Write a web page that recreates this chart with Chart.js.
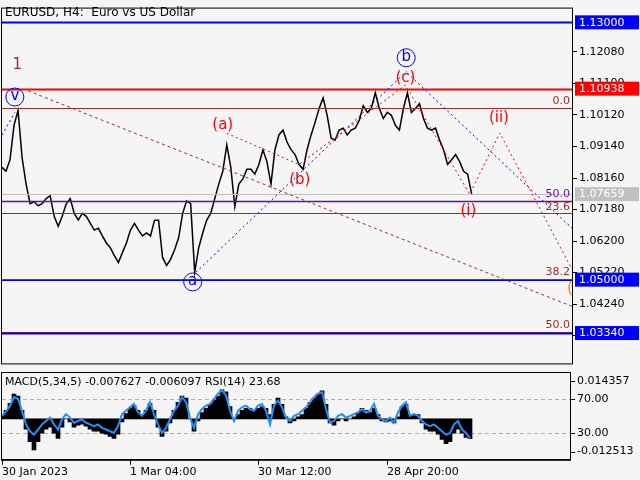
<!DOCTYPE html>
<html><head><meta charset="utf-8">
<script src="https://cdn.jsdelivr.net/npm/chart.js@4"></script>
<style>
body{margin:0;background:#f5f5f5;width:640px;height:480px;overflow:hidden;position:relative;font-family:"DejaVu Sans"}
#w1{position:absolute;left:0;top:0;width:640px;height:372px}
#w2{position:absolute;left:0;top:372px;width:640px;height:108px}
</style></head><body>
<div id="w1"><canvas id="c1"></canvas></div>
<div id="w2"><canvas id="c2"></canvas></div>
<script>
const closes=[1.0849,1.0837,1.0873,1.0980,1.1026,1.0880,1.0797,1.0736,1.0742,1.0730,
1.0736,1.0752,1.0761,1.0697,1.0666,1.0697,1.0736,1.0752,1.0706,1.0685,
1.0706,1.0697,1.0675,1.0654,1.0660,1.0636,1.0614,1.0599,1.0575,1.0553,
1.0584,1.0614,1.0654,1.0675,1.0654,1.0636,1.0645,1.0636,1.0685,1.0685,
1.0569,1.0544,1.0563,1.0593,1.0630,1.0706,1.0745,1.0736,1.0523,1.0599,
1.0645,1.0685,1.0706,1.0752,1.0797,1.0837,1.0919,1.0849,1.0727,1.0797,
1.0813,1.0843,1.0843,1.0828,1.0858,1.0904,1.0867,1.0797,1.0904,1.0950,
1.0965,1.0928,1.0904,1.0889,1.0858,1.0843,1.0904,1.0950,1.0989,1.1032,
1.1065,1.1011,1.0940,1.0934,1.0965,1.0971,1.0950,1.0965,1.0971,1.0995,
1.1041,1.1020,1.1032,1.1081,1.1032,1.1001,1.1020,1.1011,1.0980,1.0965,
1.1032,1.1081,1.1020,1.1032,1.1047,1.1001,1.0971,1.0965,1.0971,1.0934,
1.0904,1.0858,1.0873,1.0889,1.0867,1.0837,1.0828,1.0766];
const macd=[0.0012,0.0032,0.0059,0.0095,0.0087,0.0032,-0.0040,-0.0087,-0.0119,-0.0087,
-0.0055,-0.0040,-0.0032,-0.0055,-0.0075,-0.0032,0,-0.0012,-0.0032,-0.0024,
-0.0020,-0.0028,-0.0040,-0.0047,-0.0047,-0.0055,-0.0059,-0.0067,-0.0075,-0.0059,
-0.0012,0.0020,0.0040,0.0051,0.0032,0.0016,0.0032,0.0059,0.0032,-0.0032,
-0.0067,-0.0047,-0.0016,0.0032,0.0063,0.0087,0.0079,0,-0.0047,-0.0008,
0.0024,0.0040,0.0055,0.0071,0.0087,0.0111,0.0103,0.0047,0,0.0016,
0.0032,0.0040,0.0040,0.0032,0.0040,0.0047,0.0040,0.0016,0.0055,0.0079,
0.0055,0.0008,-0.0016,-0.0008,0.0008,0.0016,0.0040,0.0063,0.0079,0.0095,
0.0107,0.0055,-0.0016,-0.0024,-0.0008,0,-0.0008,0,0.0008,0.0024,
0.0040,0.0032,0.0024,0.0040,0.0016,-0.0008,-0.0012,-0.0008,-0.0016,0.0008,
0.0047,0.0055,0.0016,0.0016,0.0016,-0.0016,-0.0040,-0.0047,-0.0047,-0.0059,
-0.0079,-0.0095,-0.0087,-0.0055,-0.0040,-0.0055,-0.0071,-0.0076];
const rsi=[50,55,62,72,70,56,40,32,28,34,40,44,48,40,34,46,52,48,42,44,
46,42,40,38,40,36,34,32,30,38,52,56,60,64,54,50,56,66,52,40,
30,36,46,56,62,72,66,48,36,52,58,62,64,70,76,80,74,56,44,56,
60,62,58,56,62,64,56,40,62,68,60,48,44,50,52,56,60,66,72,76,
78,58,42,44,50,52,48,50,52,54,58,54,56,64,50,46,44,48,42,54,
62,66,50,52,50,44,40,38,40,36,32,28,30,40,44,34,30,23.68];
const priceTicks=[1.03260,1.04240,1.05220,1.06200,1.07180,1.08160,1.09140,1.10120,1.11100,1.12080];
const dateTicks=[0,32,64,96.25];
const dateLabels=["30 Jan 2023","1 Mar 04:00","30 Mar 12:00","28 Apr 20:00"];
const levels=[[1.13000,"#0000ff",2,"",""],[1.10938,"#ff0000",2,"",""],[1.1035,"#a52a2a",1,"0.0","#a52a2a"],
[1.07659,"#c0c0c0",1,"",""],[1.0745,"#6a0dad",1.5,"50.0","#6a0dad"],[1.0706,"#a52a2a",1,"23.6","#a52a2a"],
[1.0502,"#a52a2a",1,"38.2","#a52a2a"],[1.05000,"#0000ff",1,"",""],[1.0337,"#a52a2a",1,"50.0","#a52a2a"],[1.03340,"#0000ff",2,"",""]];
const boxes=[[1.13000,"#0000ff","1.13000"],[1.10938,"#ff0000","1.10938"],[1.07659,"#c0c0c0","1.07659"],[1.05000,"#0000ff","1.05000"],[1.03340,"#0000ff","1.03340"]];
const waves=[["#a52a2a",[3,3],[[6.5,1.1087],[142,1.0417]]],
["#0000ff",[2,3],[[0,1.0950],[3.2,1.1020]]],
["#0000ff",[2,3],[[48.3,1.0523],[100.8,1.1148]]],
["#0000ff",[2,3],[[101,1.1142],[142,1.0660]]],
["#ff0000",[2,3],[[56,1.0955],[74,1.0858],[100.5,1.1105],[116.5,1.0766],[124,1.0956],[142,1.0532]]]];
const marks=[[3.8,1.1168,"1","#a52a2a",0],[3.2,1.1071,"v","#0000ff",1],[55,1.0980,"(a)","#ff0000",0],
[47.5,1.0496,"a","#0000ff",1],[74.2,1.0810,"(b)","#ff0000",0],[100.7,1.1193,"b","#0000ff",1],
[100.5,1.1126,"(c)","#ff0000",0],[123.8,1.1001,"(ii)","#ff0000",0],[116.2,1.0712,"(i)","#ff0000",0],[141.5,1.0470,"(","#ff8c00",0]];
const pts=closes.map((v,i)=>({x:i,y:v}));
const mainPlug={id:"m",afterDraw(ch){const c=ch.ctx,a=ch.chartArea,X=ch.scales.x,Y=ch.scales.y;
c.save();c.beginPath();c.rect(a.left,a.top,a.right-a.left,a.bottom-a.top);c.clip();
for(const [p,col,w] of levels){const y=Math.round(Y.getPixelForValue(p))+0.5;c.strokeStyle=col;c.lineWidth=w;c.beginPath();c.moveTo(a.left,y);c.lineTo(a.right,y);c.stroke();}
for(const [col,d,ps] of waves){c.strokeStyle=col;c.lineWidth=1;c.setLineDash(d);c.beginPath();ps.forEach((q,i)=>{const x=X.getPixelForValue(q[0]),y=Y.getPixelForValue(q[1]);i?c.lineTo(x,y):c.moveTo(x,y);});c.stroke();}
c.setLineDash([]);
c.font="11px 'DejaVu Sans'";c.textAlign="right";c.textBaseline="bottom";
for(const [p,col,w,t,tc] of levels){if(t){c.fillStyle=tc;c.fillText(t,a.right-2,Y.getPixelForValue(p)-1);}}
c.font="15px 'DejaVu Sans'";c.textAlign="center";c.textBaseline="middle";
for(const [i,p,t,col,circ] of marks){const x=X.getPixelForValue(i),y=Y.getPixelForValue(p);c.fillStyle=col;c.fillText(t,x,y);if(circ){c.strokeStyle=col;c.lineWidth=1;c.beginPath();c.arc(x,y+1,9,0,Math.PI*2);c.stroke();}}
c.restore();
c.font="12px 'DejaVu Sans'";c.fillStyle="#000";c.textAlign="left";c.textBaseline="middle";c.fillText("EURUSD, H4:  Euro vs US Dollar",5,13);
c.strokeStyle="#000";c.lineWidth=1;c.strokeRect(a.left-0.5,a.top-0.5,a.right-a.left+1,a.bottom-a.top+1);
c.font="11px 'DejaVu Sans'";
for(const [p,col,t] of boxes){const y=Y.getPixelForValue(p);c.fillStyle=col;c.fillRect(a.right+3,y-7,64,14);c.fillStyle="#fff";c.fillText(t,a.right+7,y+0.5);}
}};
new Chart(document.getElementById("c1"),{type:"line",data:{datasets:[{data:pts,borderColor:"#000",borderWidth:1.5,pointRadius:0,tension:0}]},
plugins:[mainPlug],
options:{animation:false,responsive:true,maintainAspectRatio:false,layout:{padding:{left:2,top:6,bottom:3}},
plugins:{legend:{display:false},tooltip:{enabled:false}},
scales:{x:{type:"linear",min:0,max:142,display:false},
y:{position:"right",min:1.02396,max:1.13427,afterFit(s){s.width=68;},afterBuildTicks(s){s.ticks=priceTicks.map(v=>({value:v}));},
grid:{drawOnChartArea:false,tickLength:5,color:"#000"},border:{color:"#000"},
ticks:{color:"#000",font:{family:"DejaVu Sans",size:11},padding:2,callback:v=>v.toFixed(5)}}}}});
const lowPlug={id:"l",beforeDatasetsDraw(ch){const c=ch.ctx,a=ch.chartArea,R=ch.scales.rs;c.save();c.strokeStyle="#b0b0b0";c.setLineDash([4,3]);c.lineWidth=1;
for(const v of [70,30]){const y=Math.round(R.getPixelForValue(v))+0.5;c.beginPath();c.moveTo(a.left,y);c.lineTo(a.right,y);c.stroke();}c.restore();},
afterDraw(ch){const c=ch.ctx,a=ch.chartArea,R=ch.scales.rs,M=ch.scales.y;c.save();
c.strokeStyle="#000";c.lineWidth=1;c.strokeRect(a.left-0.5,a.top-0.5,a.right-a.left+1,a.bottom-a.top+1);
c.font="11px 'DejaVu Sans'";c.fillStyle="#000";c.textAlign="left";c.textBaseline="middle";
c.fillText("MACD(5,34,5) -0.007627 -0.006097 RSI(14) 23.68",5,a.top+9);
const lab=[[M.getPixelForValue(0.014357),"0.014357"],[R.getPixelForValue(70),"70.00"],[R.getPixelForValue(30),"30.00"],[M.getPixelForValue(-0.012513),"-0.012513"]];
for(const [y,t] of lab){c.beginPath();c.moveTo(a.right+1,Math.round(y)+0.5);c.lineTo(a.right+5,Math.round(y)+0.5);c.stroke();c.fillText(t,a.right+7,y);}
c.restore();}};
new Chart(document.getElementById("c2"),{type:"line",data:{datasets:[
{type:"line",data:rsi.map((v,i)=>({x:i,y:v})),yAxisID:"rs",borderColor:"#1e90ff",borderWidth:2,pointRadius:0,tension:0,order:0},
{type:"bar",data:macd.map((v,i)=>({x:i,y:v})),yAxisID:"y",backgroundColor:"#000",barPercentage:1,categoryPercentage:1,order:1}]},
plugins:[lowPlug],
options:{animation:false,responsive:true,maintainAspectRatio:false,layout:{padding:{left:2,top:1,right:70}},
plugins:{legend:{display:false},tooltip:{enabled:false}},
scales:{x:{type:"linear",offset:false,min:0,max:142,afterBuildTicks(s){s.ticks=dateTicks.map(v=>({value:v}));},
grid:{drawOnChartArea:false,offset:false,tickLength:5,color:"#000"},border:{color:"#000"},
ticks:{align:"start",color:"#000",font:{family:"DejaVu Sans",size:11},padding:1,maxRotation:0,autoSkip:false,callback:(v,i)=>dateLabels[i]}},
y:{type:"linear",display:false,min:-0.01567,max:0.01752},rs:{type:"linear",axis:"y",display:false,min:-1.5,max:100.3}}}});
</script></body></html>
